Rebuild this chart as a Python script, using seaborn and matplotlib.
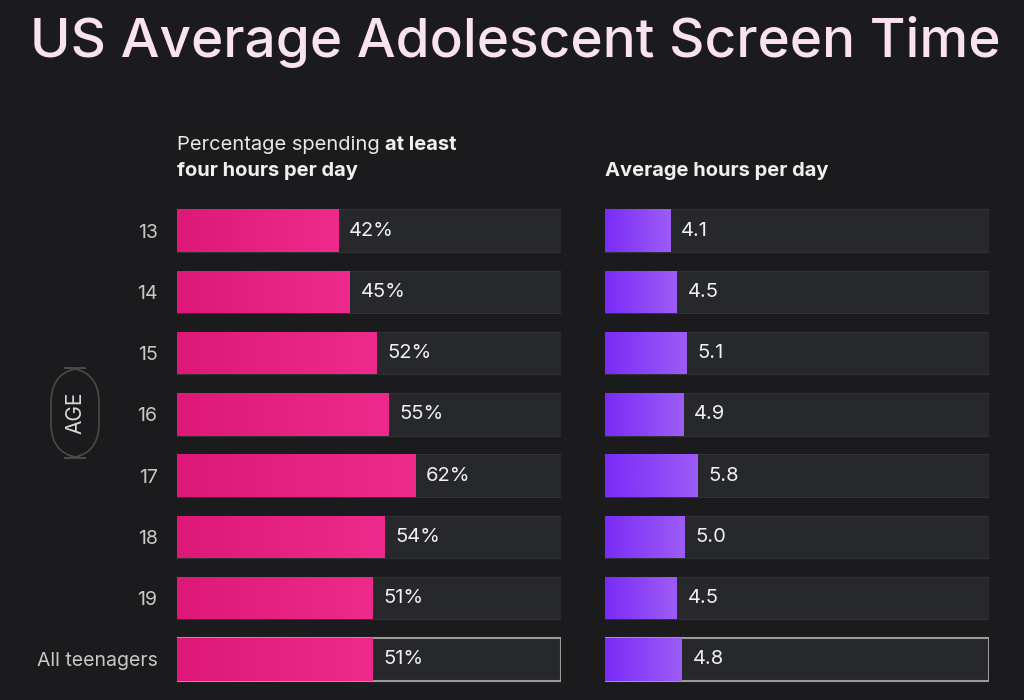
import matplotlib
matplotlib.use("Agg")
import matplotlib.pyplot as plt
import seaborn as sns
import numpy as np
import pandas as pd
from matplotlib.colors import LinearSegmentedColormap
from matplotlib.patches import FancyBboxPatch

ages = ["13", "14", "15", "16", "17", "18", "19", "All teenagers"]
pct = [42, 45, 52, 55, 62, 54, 51, 51]
hours = [4.1, 4.5, 5.1, 4.9, 5.8, 5.0, 4.5, 4.8]

BG = "#1b1b1d"
TRACK = "#26282b"
sns.set_theme(style="dark")
plt.rcParams["font.family"] = ["Inter", "DejaVu Sans"]

fig = plt.figure(figsize=(10.24, 7), dpi=100, facecolor=BG)
df = pd.DataFrame({"age": ages, "pct": pct, "hours": hours})

def panel(left, col, xmax, cmap, labfmt):
    ax = fig.add_axes([left / 1024, 10 / 700, 384 / 1024, 490 / 700])
    ax.set_facecolor(BG)
    df2 = df.assign(full=xmax)
    sns.barplot(data=df2, x="full", y="age", color=TRACK, width=0.69, ax=ax,
                saturation=1, edgecolor="#303236", linewidth=0.8)
    n = len(ages)
    sns.barplot(data=df2, x=col, y="age", color="#e0197a", width=0.69, ax=ax,
                saturation=1, linewidth=0)
    bars = ax.patches[n:]
    for p in bars:
        x0, y0, w, h = p.get_x(), p.get_y(), p.get_width(), p.get_height()
        im = ax.imshow(np.linspace(0, 1, 256).reshape(1, -1), cmap=cmap, aspect="auto",
                       extent=[x0, x0 + w, y0 + h, y0], zorder=3)
        im.set_clip_path(p)
        p.set_alpha(0)
    last = ax.patches[n - 1]
    last.set_edgecolor("#9a9a9a"); last.set_linewidth(1.5)
    for i, v in enumerate(df[col]):
        ax.text(v + xmax * 0.028, i, labfmt(v), color="#f0f0f0", fontsize=14.5,
                va="center", ha="left", zorder=4)
    ax.set_xlim(0, xmax)
    ax.set_ylim(n - 0.5, -0.5)
    ax.set_xlabel(""); ax.set_ylabel("")
    ax.set_xticks([])
    for s in ax.spines.values():
        s.set_visible(False)
    return ax

pink = LinearSegmentedColormap.from_list("p", ["#dd1878", "#ee2a8c"])
purple = LinearSegmentedColormap.from_list("v", ["#7a2cf6", "#9d5cf6"])
ax1 = panel(177, "pct", 100, pink, lambda v: f"{v}%")
ax1.tick_params(axis="y", colors="#c8c8c8", labelsize=14, length=0, pad=14)
for t in ax1.get_yticklabels():
    t.set_color("#c8c8c8")
ax2 = panel(605, "hours", 24, purple, lambda v: f"{v:.1f}")
ax2.set_yticks([])

fig.text(30 / 1024, 1 - 42 / 700, "US Average Adolescent Screen Time", color="#fbe3ee",
         fontsize=39.5, fontweight="medium", va="center", ha="left")
t1 = fig.text(177 / 1024, 1 - 145 / 700, "Percentage spending", color="#e8e8e8", fontsize=14.5, va="center")
fig.canvas.draw()
x_end = t1.get_window_extent().x1
fig.text((x_end + 5) / 1024, 1 - 145 / 700, "at least", color="#f0f0f0", fontsize=14.5, va="center", fontweight="bold")
fig.text(177 / 1024, 1 - 171 / 700, "four hours per day", color="#f0f0f0", fontsize=14.5, va="center", fontweight="bold")
fig.text(605 / 1024, 1 - 171 / 700, "Average hours per day", color="#f0f0f0", fontsize=14.5, va="center", fontweight="bold")

pill = FancyBboxPatch((51 / 1024, 1 - 458 / 700), 48 / 1024, 90 / 700,
                      boxstyle="round,pad=0,rounding_size=0.034", transform=fig.transFigure,
                      facecolor=BG, edgecolor="#4a4a4a", linewidth=1.2,
                      mutation_aspect=1024 / 700)
fig.patches.append(pill)
fig.text(75 / 1024, 1 - 413 / 700, "AGE", color="#d8d8d8", fontsize=15, rotation=90,
         va="center", ha="center")

fig.savefig("out.png", dpi=100, facecolor=BG)
